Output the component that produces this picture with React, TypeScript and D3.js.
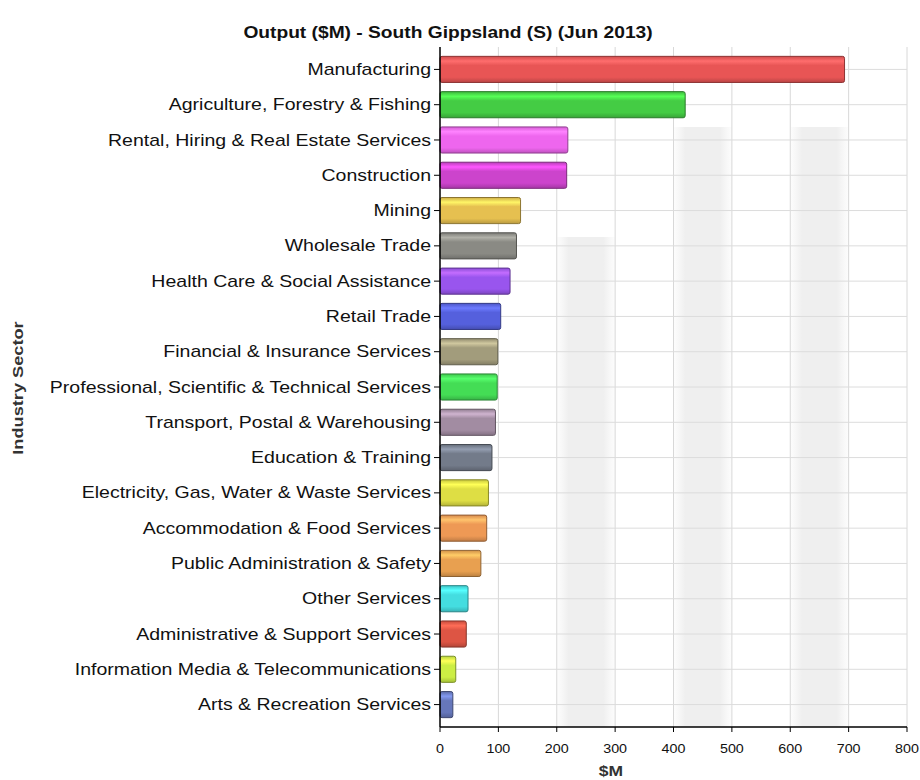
import * as d3 from 'd3'

const sectors = [
  'Manufacturing',
  'Agriculture, Forestry & Fishing',
  'Rental, Hiring & Real Estate Services',
  'Construction',
  'Mining',
  'Wholesale Trade',
  'Health Care & Social Assistance',
  'Retail Trade',
  'Financial & Insurance Services',
  'Professional, Scientific & Technical Services',
  'Transport, Postal & Warehousing',
  'Education & Training',
  'Electricity, Gas, Water & Waste Services',
  'Accommodation & Food Services',
  'Public Administration & Safety',
  'Other Services',
  'Administrative & Support Services',
  'Information Media & Telecommunications',
  'Arts & Recreation Services',
]

const output = [693, 420, 219, 217, 138, 131, 120, 104, 99, 98, 95, 89, 83, 80, 70, 48, 45, 27, 22]

const barColors = [
  '#e85555', '#44cc44', '#ee66ee', '#cc44cc', '#e6c050', '#8a8a84', '#9955ee', '#5560dd',
  '#a29c7c', '#44dd55', '#a28ca2', '#737b8a', '#dede44', '#ee9955', '#e8a050', '#44dde0',
  '#dd5544', '#ccee44', '#6677bb',
]

const xTicks = [0, 100, 200, 300, 400, 500, 600, 700, 800]

const W = 920
const H = 780
const M = { top: 47, right: 13, bottom: 53, left: 440 }

export default function App() {
  const x = d3.scaleLinear().domain([0, 800]).range([M.left, W - M.right])
  const y = d3
    .scaleBand<string>()
    .domain(sectors)
    .range([M.top, H - M.bottom])
    .paddingInner(0.26)
    .paddingOuter(0.265)

  const font = '"Liberation Sans", Arial, sans-serif'
  const plotBottom = H - M.bottom

  return (
    <svg
      width={W}
      height={H}
      style={{ position: 'absolute', left: 0, top: 0, background: '#fff' }}
      fontFamily={font}
    >
      <defs>
        {barColors.map((c, i) => {
          const base = d3.color(c)!
          return (
            <linearGradient key={i} id={`g${i}`} x1="0" y1="0" x2="0" y2="1">
              <stop offset="0" stopColor={base.darker(0.3).formatHex()} />
              <stop offset="0.18" stopColor={base.brighter(0.7).formatHex()} />
              <stop offset="0.35" stopColor={c} />
              <stop offset="0.8" stopColor={c} />
              <stop offset="1" stopColor={base.darker(0.6).formatHex()} />
            </linearGradient>
          )
        })}
        <linearGradient id="shade" x1="0" y1="0" x2="1" y2="0">
          <stop offset="0" stopColor="#f3f3f3" stopOpacity="0.2" />
          <stop offset="0.2" stopColor="#efefef" />
          <stop offset="0.8" stopColor="#efefef" />
          <stop offset="1" stopColor="#f3f3f3" stopOpacity="0.2" />
        </linearGradient>
      </defs>

      {/* shaded columns */}
      {[200, 400, 600].map((v) => (
        <rect
          key={v}
          x={x(v)}
          y={v === 200 ? M.top + 190 : M.top + 80}
          width={x(v + 100) - x(v)}
          height={plotBottom - M.top - (v === 200 ? 190 : 80)}
          fill="url(#shade)"
        />
      ))}

      {/* vertical grid */}
      {xTicks.slice(1).map((v) => (
        <line key={v} x1={x(v)} x2={x(v)} y1={M.top} y2={plotBottom} stroke="#d8d8d8" />
      ))}

      {/* horizontal grid at category centres */}
      {sectors.map((s) => {
        const cy = y(s)! + y.bandwidth() / 2
        return <line key={s} x1={M.left} x2={W - M.right} y1={cy} y2={cy} stroke="#dcdcdc" />
      })}

      {/* bars */}
      {sectors.map((s, i) => (
        <rect
          key={s}
          x={x(0)}
          y={y(s)}
          width={x(output[i]) - x(0)}
          height={y.bandwidth()}
          rx={2}
          fill={`url(#g${i})`}
          stroke={d3.color(barColors[i])!.darker(1.4).formatHex()}
          strokeWidth={1}
        />
      ))}

      {/* axes */}
      <line x1={M.left} x2={M.left} y1={M.top} y2={plotBottom} stroke="#000" strokeWidth={1.5} />
      <line x1={M.left} x2={W - M.right} y1={plotBottom} y2={plotBottom} stroke="#000" strokeWidth={1.5} />

      {sectors.map((s) => {
        const cy = y(s)! + y.bandwidth() / 2
        return (
          <g key={s}>
            <line x1={M.left - 6} x2={M.left} y1={cy} y2={cy} stroke="#000" />
            <text
              transform={`translate(${M.left - 9},${cy}) scale(1.22,1)`}
              dy="0.35em"
              textAnchor="end"
              fontSize={16}
              fill="#111"
            >
              {s}
            </text>
          </g>
        )
      })}

      {xTicks.map((v) => (
        <g key={v}>
          <line x1={x(v)} x2={x(v)} y1={plotBottom} y2={plotBottom + 5} stroke="#000" />
          <text
            transform={`translate(${x(v)},${plotBottom + 26}) scale(1.1,1)`}
            textAnchor="middle"
            fontSize={13}
            fill="#111"
          >
            {v}
          </text>
        </g>
      ))}

      <text
        transform="translate(448,38) scale(1.2,1)"
        textAnchor="middle"
        fontSize={16}
        fontWeight="bold"
        fill="#111"
      >
        Output ($M) - South Gippsland (S) (Jun 2013)
      </text>
      <text
        transform="translate(611,776) scale(1.25,1)"
        textAnchor="middle"
        fontSize={14}
        fontWeight="bold"
        fill="#333"
      >
        $M
      </text>
      <text
        transform="translate(23,388) rotate(-90) scale(1.3,1)"
        textAnchor="middle"
        fontSize={14}
        fontWeight="bold"
        fill="#333"
      >
        Industry Sector
      </text>
    </svg>
  )
}
